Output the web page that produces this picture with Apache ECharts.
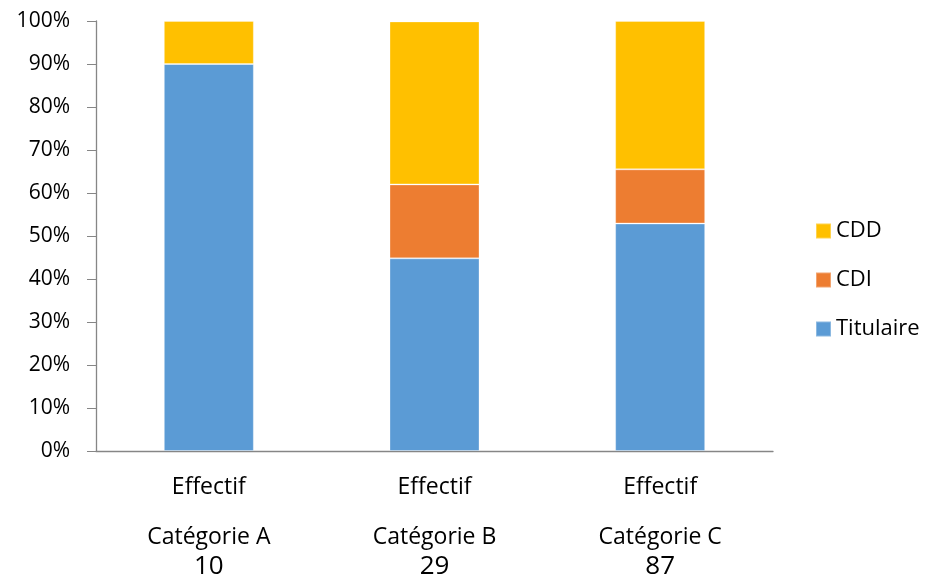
<!DOCTYPE html>
<html>
<head>
<meta charset="utf-8">
<script src="https://cdn.jsdelivr.net/npm/echarts@6/dist/echarts.min.js"></script>
<style>html,body{margin:0;padding:0;background:#fff;}#c{width:926px;height:580px;}</style>
</head>
<body>
<div id="c"></div>
<script>
const categories = ['Catégorie A', 'Catégorie B', 'Catégorie C'];
const effectifs = [10, 29, 87];
const subLabel = 'Effectif';
const titulaire = [90, 44.8, 52.9];
const cdi = [0, 17.2, 12.6];
const cdd = [10, 37.9, 34.5];
const yTicks = [0, 10, 20, 30, 40, 50, 60, 70, 80, 90, 100];

const colors = { Titulaire: '#5B9BD5', CDI: '#ED7D31', CDD: '#FFC000' };
const chart = echarts.init(document.getElementById('c'));
const axisColor = '#868686';
const fontMain = '"Open Sans", sans-serif';

function bar(name, data) {
  return {
    name, type: 'bar', stack: 'total', data, barWidth: 90,
    itemStyle: { color: colors[name], borderColor: 'rgba(255,255,255,0.3)', borderWidth: 1 },
    emphasis: { disabled: true }
  };
}

chart.setOption({
  animation: false,
  backgroundColor: '#ffffff',
  grid: { left: 96, right: 153, top: 21, bottom: 129, containLabel: false },
  legend: {
    orient: 'vertical', left: 810, top: 215,
    data: ['CDD', 'CDI', 'Titulaire'],
    icon: 'rect', itemWidth: 15, itemHeight: 15, itemGap: 27,
    textStyle: { fontFamily: fontMain, fontSize: 22, color: '#000' },
    selectedMode: false
  },
  xAxis: {
    type: 'category', data: categories,
    axisLine: { lineStyle: { color: axisColor, width: 1.3 } },
    axisTick: { show: false },
    axisLabel: {
      margin: 0, interval: 0,
      formatter: (v, i) => '{a|' + subLabel + '}\n{b|' + v + '}\n{c|' + effectifs[i] + '}',
      rich: {
        a: { fontFamily: fontMain, fontSize: 23, color: '#000', lineHeight: 72 },
        b: { fontFamily: fontMain, fontSize: 23, color: '#000', lineHeight: 28 },
        c: { fontFamily: fontMain, fontSize: 26, color: '#000', lineHeight: 32 }
      }
    }
  },
  yAxis: {
    type: 'value', min: yTicks[0], max: yTicks[yTicks.length - 1], interval: 10,
    axisLine: { show: true, lineStyle: { color: axisColor, width: 1.3 } },
    axisTick: { show: true, length: 9, lineStyle: { color: axisColor } },
    splitLine: { show: false },
    axisLabel: {
      margin: 26, fontFamily: fontMain, fontSize: 21, color: '#000',
      formatter: v => v + '%'
    }
  },
  series: [bar('Titulaire', titulaire), bar('CDI', cdi), bar('CDD', cdd)]
});
</script>
</body>
</html>
